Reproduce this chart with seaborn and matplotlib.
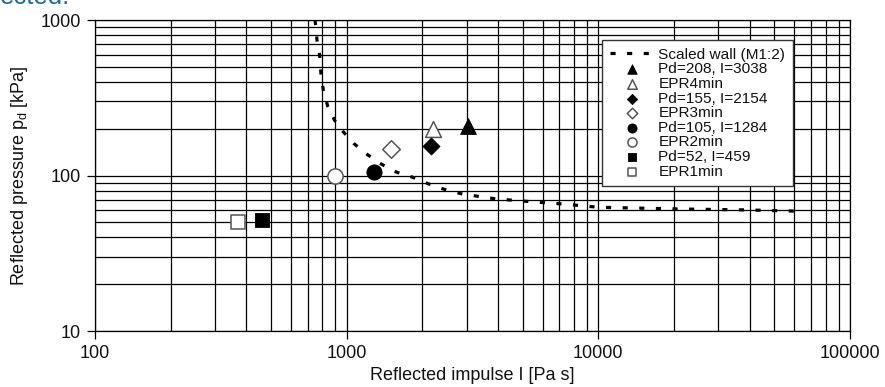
import matplotlib
matplotlib.use("Agg")
import matplotlib.pyplot as plt
import seaborn as sns
import pandas as pd
from matplotlib.ticker import LogLocator, NullFormatter, FixedLocator, FixedFormatter

# Scaled wall (M1:2) pressure-impulse curve
wall_impulse = [748, 755, 762, 781, 790, 807, 841, 896, 964, 1066, 1189, 1352,
                1579, 1828, 2114, 2470, 2884, 3900, 5320, 7200, 10000, 20000,
                40000, 61000]
wall_pressure = [1000, 900, 743, 594, 457, 357, 279, 226, 193, 161, 139, 120,
                 105, 97.5, 88.4, 81, 76, 70.8, 68, 65.6, 62.5, 61, 60, 59]

# Individual test points
point_labels = ["Pd=208, I=3038", "EPR4min", "Pd=155, I=2154", "EPR3min",
                "Pd=105, I=1284", "EPR2min", "Pd=52, I=459", "EPR1min"]
point_impulse = [3038, 2200, 2154, 1500, 1284, 895, 459, 370]
point_pressure = [208, 198, 155, 148, 105, 100, 52, 50]
point_markers = ["^", "^", "D", "D", "o", "o", "s", "s"]
point_filled = [True, False, True, False, True, False, True, False]
point_sizes = [130, 130, 75, 80, 120, 120, 95, 110]

x_ticks = [100, 1000, 10000, 100000]
x_ticklabels = ["100", "1000", "10000", "100000"]
y_ticks = [10, 100, 1000]
y_ticklabels = ["10", "100", "1000"]

sns.set_theme(style="white")
plt.rcParams["font.family"] = ["Liberation Sans", "DejaVu Sans"]
plt.rcParams["mathtext.default"] = "regular"
txt = "#111111"

fig = plt.figure(figsize=(8.85, 3.87), dpi=100)
ax = fig.add_axes([0.1073, 0.1447, 0.8532, 0.8036])

wall = pd.DataFrame({"I": wall_impulse, "P": wall_pressure})
sns.lineplot(data=wall, x="I", y="P", ax=ax, color="black", lw=2.3,
             linestyle=(0, (1.6, 3.6)), sort=False, estimator=None,
             label="Scaled wall (M1:2)", zorder=3)

for lab, xi, yi, m, filled, s in zip(point_labels, point_impulse, point_pressure,
                                     point_markers, point_filled, point_sizes):
    sns.scatterplot(x=[xi], y=[yi], ax=ax, marker=m, s=s,
                    color="black" if filled else "white",
                    edgecolor="black" if filled else "#555555",
                    linewidth=0.6 if filled else 1.1,
                    label=lab, zorder=4)

ax.set_xscale("log")
ax.set_yscale("log")
ax.set_xlim(100, 100000)
ax.set_ylim(10, 1000)

ax.xaxis.set_major_locator(FixedLocator(x_ticks))
ax.xaxis.set_major_formatter(FixedFormatter(x_ticklabels))
ax.yaxis.set_major_locator(FixedLocator(y_ticks))
ax.yaxis.set_major_formatter(FixedFormatter(y_ticklabels))
for axis in (ax.xaxis, ax.yaxis):
    axis.set_minor_locator(LogLocator(base=10, subs=range(2, 10)))
    axis.set_minor_formatter(NullFormatter())

ax.grid(True, which="both", color="black", lw=0.9)
ax.set_axisbelow(True)
ax.tick_params(which="major", direction="out", length=6, width=0.9,
               color="black", labelsize=13, labelcolor=txt, pad=4,
               left=True, bottom=True)
ax.tick_params(which="minor", length=0)
for sp in ax.spines.values():
    sp.set_color("black")
    sp.set_linewidth(0.9)

ax.set_xlabel("Reflected impulse I [Pa s]", fontsize=13, color=txt, labelpad=4)
ax.set_ylabel("Reflected pressure p$_d$ [kPa]", fontsize=13, color=txt, labelpad=8)

leg = ax.legend(loc="upper right", bbox_to_anchor=(0.9245, 0.9357),
                borderaxespad=0, fontsize=11.1, labelspacing=0.04,
                handlelength=2.9, handletextpad=0.25, markerscale=0.6,
                frameon=True, fancybox=False, framealpha=1,
                borderpad=0.5)
leg.get_frame().set_edgecolor("#333333")
leg.get_frame().set_linewidth(1.0)
for t in leg.get_texts():
    t.set_color(txt)

fig.text(0.0, 0.990, "ected.", color="#1b6c98", fontsize=18.5,
         ha="left", va="baseline")

fig.savefig("out.png", dpi=100)
